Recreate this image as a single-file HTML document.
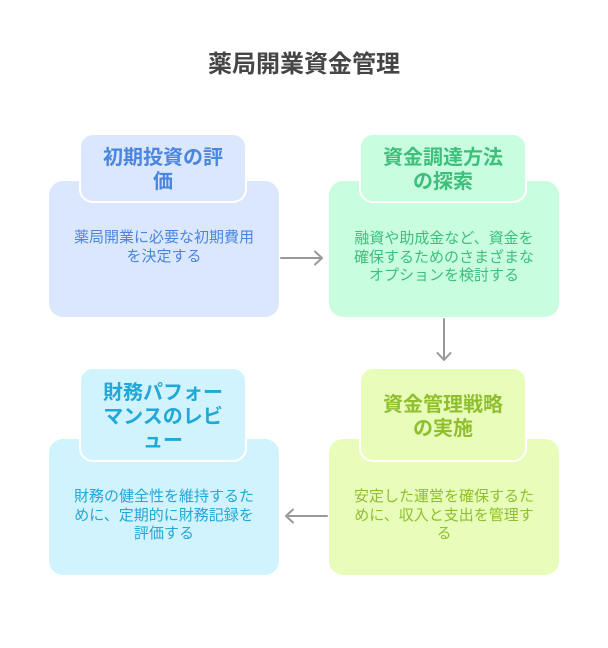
<!DOCTYPE html>
<html lang="ja">
<head>
<meta charset="utf-8">
<style>
  html, body { margin: 0; padding: 0; background: #ffffff; }
  body { width: 608px; height: 648px; position: relative; overflow: hidden;
         font-family: "Liberation Sans", "Noto Sans CJK JP", sans-serif; }
  .title { position: absolute; left: 0; width: 608px; top: 53px; text-align: center;
           font-size: 24px; line-height: 24px; font-weight: bold; color: #454545; }
  .box { position: absolute; width: 230px; border-radius: 14px; }
  .hdr { position: absolute; width: 168px; box-sizing: border-box; border: 2px solid #ffffff;
         border-radius: 14px; display: flex; align-items: center; justify-content: center; }
  .hdr span { display: block; text-align: center; font-size: 20px; line-height: 24px;
              font-weight: bold; white-space: nowrap; position: relative; top: 2px; }
  .body { position: absolute; width: 230px; text-align: center; font-size: 15px;
          line-height: 18.5px; white-space: nowrap; }
  svg { position: absolute; left: 0; top: 0; }
</style>
</head>
<body>
<div class="title">薬局開業資金管理</div>

<!-- Box 1 -->
<div class="box" style="left:49px; top:181px; height:136px; background:#dbe7fd;"></div>
<div class="hdr" style="left:79px; top:133px; height:70px; background:#dbe7fd;"><span style="color:#4a86e0;">初期投資の評<br>価</span></div>
<div class="body" style="left:49px; top:229px; color:#4a86e0;">薬局開業に必要な初期費用<br>を決定する</div>

<!-- Box 2 -->
<div class="box" style="left:329px; top:181px; height:136px; background:#c8fde0;"></div>
<div class="hdr" style="left:359px; top:133px; height:70px; background:#c8fde0;"><span style="color:#3dbf7b;">資金調達方法<br>の探索</span></div>
<div class="body" style="left:329px; top:230px; color:#3dbf7b;">融資や助成金など、資金を<br>確保するためのさまざまな<br>オプションを検討する</div>

<!-- Box 3 (bottom-left) -->
<div class="box" style="left:49px; top:439px; height:136px; background:#d1f3fd;"></div>
<div class="hdr" style="left:79px; top:367px; height:95px; background:#d1f3fd;"><span style="color:#22a8d8;">財務パフォー<br>マンスのレビ<br>ュー</span></div>
<div class="body" style="left:49px; top:488px; color:#22a8d8;">財務の健全性を維持するた<br>めに、定期的に財務記録を<br>評価する</div>

<!-- Box 4 (bottom-right) -->
<div class="box" style="left:329px; top:439px; height:136px; background:#e8fdb9;"></div>
<div class="hdr" style="left:359px; top:367px; height:95px; background:#e8fdb9;"><span style="color:#8fbf2e;">資金管理戦略<br>の実施</span></div>
<div class="body" style="left:329px; top:488px; color:#8fbf2e;">安定した運営を確保するた<br>めに、収入と支出を管理す<br>る</div>

<svg width="608" height="648" viewBox="0 0 608 648">
  <g fill="none" stroke="#999999" stroke-width="2" stroke-linecap="round" stroke-linejoin="round">
    <!-- arrow 1: right -->
    <line x1="281" y1="258" x2="321" y2="258"/>
    <polyline points="315,251.5 322,258 315,264.5"/>
    <!-- arrow 2: down -->
    <line x1="444" y1="319" x2="444" y2="359"/>
    <polyline points="437.5,353 444,360 450.5,353"/>
    <!-- arrow 3: left -->
    <line x1="327" y1="516" x2="287" y2="516"/>
    <polyline points="293,509.5 286,516 293,522.5"/>
  </g>
</svg>
</body>
</html>
